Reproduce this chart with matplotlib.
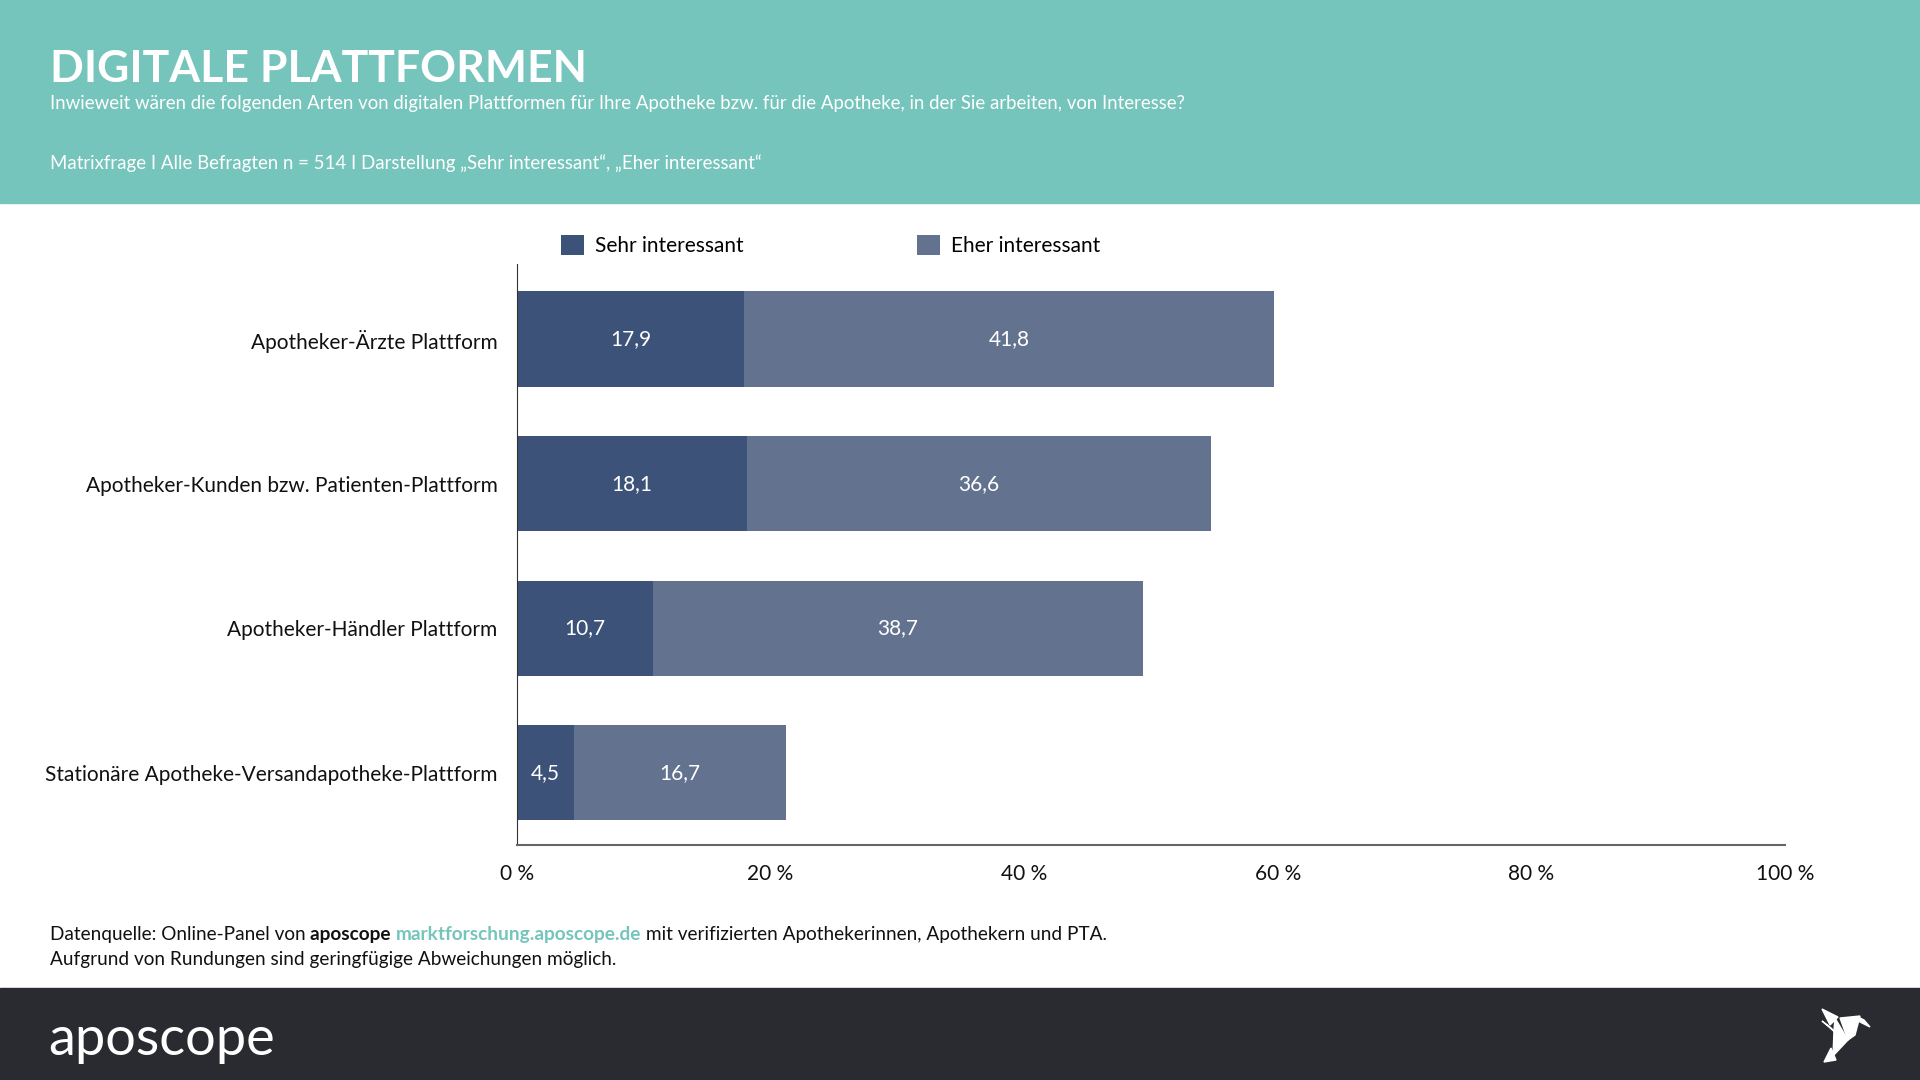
import numpy as np
import matplotlib
matplotlib.use('Agg')
import matplotlib.pyplot as plt
from matplotlib.patches import Rectangle, Polygon

plt.rcParams['font.family'] = ['Lato', 'DejaVu Sans']

# data
categories = ['Apotheker-Ärzte Plattform',
              'Apotheker-Kunden bzw. Patienten-Plattform',
              'Apotheker-Händler Plattform',
              'Stationäre Apotheke-Versandapotheke-Plattform']
sehr = [17.9, 18.1, 10.7, 4.5]
eher = [41.8, 36.6, 38.7, 16.7]
series_names = ['Sehr interessant', 'Eher interessant']
xticks = [0, 20, 40, 60, 80, 100]

teal = '#76C5BC'
dark = '#2A2B30'
c_sehr = '#3D5278'
c_eher = '#63738F'

W, H = 1920, 1080
fig = plt.figure(figsize=(W / 100, H / 100), dpi=100)
fig.patch.set_facecolor('white')

# header / footer bands
fig.patches.append(Rectangle((0, 1 - 203 / H), 1, 203 / H, transform=fig.transFigure,
                             color=teal, zorder=0))
fig.patches.append(Rectangle((0, 0), 1, 92 / H, transform=fig.transFigure,
                             color=dark, zorder=0))

fig.text(50 / W, 1 - 82 / H, 'DIGITALE PLATTFORMEN', color='white', fontsize=32,
         fontweight='bold', va='baseline', ha='left')
fig.text(50 / W, 1 - 109 / H,
         'Inwieweit wären die folgenden Arten von digitalen Plattformen für Ihre Apotheke bzw. '
         'für die Apotheke, in der Sie arbeiten, von Interesse?',
         color='white', fontsize=13.4, va='baseline', ha='left')
fig.text(50 / W, 1 - 169 / H,
         'Matrixfrage I Alle Befragten n = 514 I Darstellung „Sehr interessant“, „Eher interessant“',
         color='white', fontsize=13.4, va='baseline', ha='left')

# chart
ax = fig.add_axes([517 / W, 1 - 845 / H, (1785 - 517) / W, (845 - 264) / H])
y = np.arange(len(categories))
ax.barh(y, sehr, height=0.66, color=c_sehr, label=series_names[0])
ax.barh(y, eher, left=sehr, height=0.66, color=c_eher, label=series_names[1])
for i in range(len(categories)):
    ax.text(sehr[i] / 2, y[i], f'{sehr[i]:.1f}'.replace('.', ','), color='white',
            ha='center', va='center', fontsize=15)
    ax.text(sehr[i] + eher[i] / 2, y[i], f'{eher[i]:.1f}'.replace('.', ','), color='white',
            ha='center', va='center', fontsize=15)

ax.set_xlim(0, 100)
ax.set_ylim(3.5, -0.52)
ax.set_yticks(y)
ax.set_yticklabels(categories, fontsize=15, color='#111111')
ax.set_xticks(xticks)
ax.set_xticklabels([f'{t} %' for t in xticks], fontsize=15, color='#111111')
ax.tick_params(length=0)
ax.tick_params(axis='y', pad=14)
ax.tick_params(axis='x', pad=14)
for s in ['top', 'right']:
    ax.spines[s].set_visible(False)
ax.spines['left'].set_color('#333333')
ax.spines['left'].set_linewidth(0.8)
ax.spines['bottom'].set_color('#666666')
ax.spines['bottom'].set_linewidth(1.5)

leg = ax.legend(ncol=2, loc='lower left', bbox_to_anchor=(0.028, 1.0), frameon=False,
                fontsize=15, handlelength=1.1, handleheight=1.1, handletextpad=0.55,
                columnspacing=8.3, borderaxespad=0)

# footer text
renderer = fig.canvas.get_renderer()
x0 = 50 / W
yl = 1 - 940 / H
parts = [('Datenquelle: Online-Panel von ', 'normal', '#111111'),
         ('aposcope ', 'bold', '#111111'),
         ('marktforschung.aposcope.de', 'bold', teal),
         (' mit verifizierten Apothekerinnen, Apothekern und PTA.', 'normal', '#111111')]
xc = x0
for txt, wt, col in parts:
    t = fig.text(xc, yl, txt, fontsize=13.7, fontweight=wt, color=col, va='baseline')
    bb = t.get_window_extent(renderer)
    xc += bb.width / W
fig.text(x0, 1 - 965 / H, 'Aufgrund von Rundungen sind geringfügige Abweichungen möglich.',
         fontsize=13.7, color='#111111', va='baseline')

# logo
fig.text(48 / W, 1 - 1055 / H, 'aposcope', color='white', fontsize=39, fontweight='normal',
         va='baseline')
bird = [[(1822, 1009), (1838, 1017), (1830, 1025)],
        [(1822, 1021), (1836, 1033), (1830, 1027)],
        [(1835, 1018), (1848, 1040), (1833, 1056), (1834, 1030)],
        [(1840, 1018), (1860, 1016), (1855, 1035), (1848, 1040)],
        [(1858, 1017), (1864, 1020), (1870, 1027), (1860, 1022)],
        [(1831, 1048), (1836, 1060), (1824, 1062)]]
for poly in bird:
    pts = [(px / W, 1 - py / H) for px, py in poly]
    fig.patches.append(Polygon(pts, closed=True, transform=fig.transFigure,
                               color='white', zorder=2))

fig.savefig('out.png', dpi=100)
